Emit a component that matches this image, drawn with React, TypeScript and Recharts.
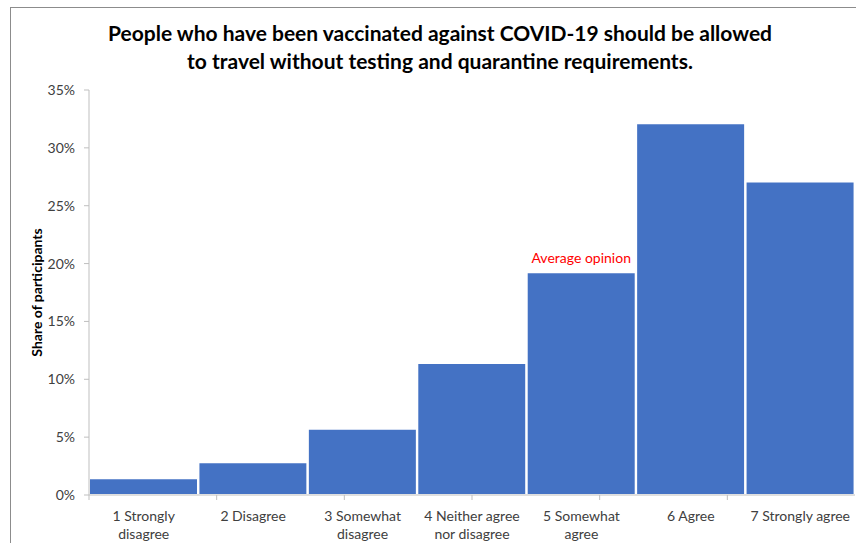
import React from "react";
import { BarChart, Bar, XAxis, YAxis, LabelList } from "recharts";

const categories = [
  "1 Strongly\ndisagree",
  "2 Disagree",
  "3 Somewhat\ndisagree",
  "4 Neither agree\nnor disagree",
  "5 Somewhat\nagree",
  "6 Agree",
  "7 Strongly agree",
];
const shares = [1.44, 2.83, 5.73, 11.41, 19.25, 32.12, 27.1];
const notes = ["", "", "", "", "Average opinion", "", ""];
const yTicks = [0, 5, 10, 15, 20, 25, 30, 35];
const boundaryTicks = [0, 1, 2, 3, 4, 5, 6, 7];

const data = categories.map((c, i) => ({ cat: c, share: shares[i], note: notes[i] }));

const FONT = "Lato, 'Open Sans', sans-serif";

const CatTick = (props: any) => {
  const { x, y, payload } = props;
  const lines = String(payload.value).split("\n");
  return (
    <text x={x} y={y} textAnchor="middle" fill="#404040" fontSize={14} fontFamily={FONT}>
      {lines.map((l, i) => (
        <tspan key={i} x={x} dy={i === 0 ? 17 : 18}>
          {l}
        </tspan>
      ))}
    </text>
  );
};

export default function App() {
  return (
    <div style={{ position: "absolute", left: 0, top: 0, width: 856, height: 543, overflow: "hidden", background: "#fff" }}>
      <div style={{ position: "absolute", left: 10, top: 7, width: 900, height: 600, border: "1px solid #8c8c8c" }} />
      <div
        style={{
          position: "absolute",
          left: 10,
          top: 19,
          width: 860,
          textAlign: "center",
          fontFamily: FONT,
          fontWeight: "bold",
          fontSize: 21,
          lineHeight: "28px",
          color: "#000",
        }}
      >
        People who have been vaccinated against COVID-19 should be allowed
        <br />
        to travel without testing and quarantine requirements.
      </div>
      <div style={{ position: "absolute", left: 0, top: 0 }}>
        <BarChart
          width={856}
          height={543}
          data={data}
          margin={{ top: 90, right: 1, bottom: 0, left: 0 }}
          barCategoryGap={0}
        >
          <XAxis
            xAxisId="b"
            dataKey="cat"
            axisLine={false}
            tickLine={false}
            tick={<CatTick />}
            interval={0}
            height={47}
          />
          <XAxis
            xAxisId="a"
            type="number"
            domain={[0, 7]}
            ticks={boundaryTicks}
            allowDataOverflow
            stroke="#bfbfbf"
            tickLine={{ stroke: "#bfbfbf" }}
            tickSize={5}
            tickFormatter={() => ""}
            height={1}
          />
          <YAxis
            width={89}
            domain={[0, 35]}
            ticks={yTicks}
            tickFormatter={(v: number) => `${v}%`}
            stroke="#bfbfbf"
            tickSize={5}
            tickMargin={9}
            tick={{ fill: "#404040", fontSize: 14, fontFamily: FONT }}
            label={{
              value: "Share of participants",
              angle: -90,
              position: "center",
              dx: -7,
              style: { fontWeight: "bold", fontSize: 14, fill: "#000", fontFamily: FONT },
            }}
          />
          <Bar dataKey="share" xAxisId="b" fill="#4472C4" stroke="#ffffff" strokeWidth={2} isAnimationActive={false}>
            <LabelList dataKey="note" position="top" offset={9} fill="#ff0000" fontSize={14} fontFamily={FONT} />
          </Bar>
        </BarChart>
      </div>
    </div>
  );
}
